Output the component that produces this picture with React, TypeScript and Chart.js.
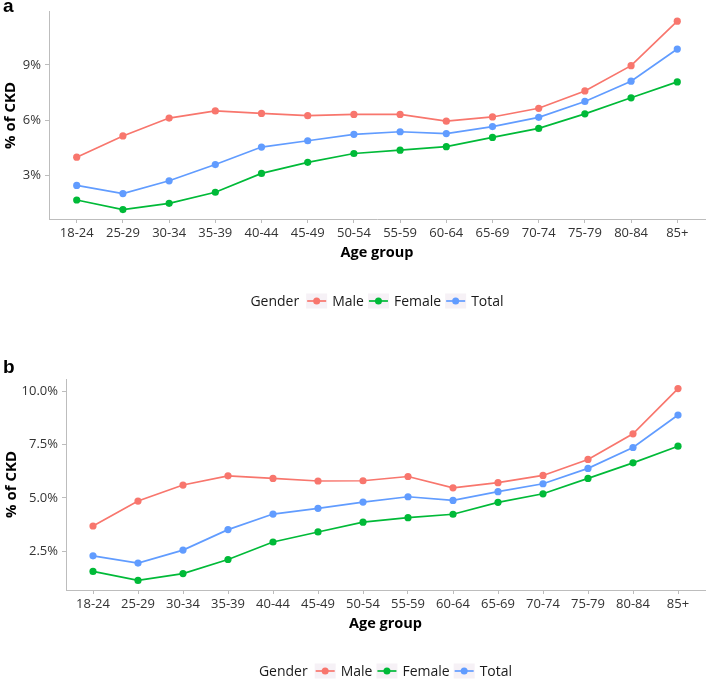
import React, { useEffect, useRef } from "react";
import { Chart, registerables } from "chart.js";

Chart.register(...registerables);

const ageGroups = ["18-24", "25-29", "30-34", "35-39", "40-44", "45-49", "50-54", "55-59", "60-64", "65-69", "70-74", "75-79", "80-84", "85+"];

const seriesNames = ["Male", "Female", "Total"];
const seriesColors = ["#F8766D", "#00BA38", "#619CFF"];

const maleA = [4.0, 5.15, 6.12, 6.51, 6.37, 6.25, 6.32, 6.32, 5.95, 6.18, 6.65, 7.59, 8.96, 11.37];
const femaleA = [1.68, 1.16, 1.5, 2.1, 3.12, 3.72, 4.2, 4.38, 4.57, 5.07, 5.56, 6.35, 7.22, 8.08];
const totalA = [2.47, 2.03, 2.72, 3.6, 4.55, 4.89, 5.24, 5.38, 5.28, 5.66, 6.16, 7.02, 8.12, 9.86];

const maleB = [3.68, 4.85, 5.6, 6.03, 5.91, 5.79, 5.8, 6.0, 5.47, 5.71, 6.05, 6.8, 8.0, 10.12];
const femaleB = [1.55, 1.13, 1.45, 2.11, 2.93, 3.4, 3.86, 4.07, 4.23, 4.79, 5.19, 5.91, 6.64, 7.42];
const totalB = [2.28, 1.94, 2.55, 3.51, 4.24, 4.51, 4.8, 5.05, 4.88, 5.29, 5.66, 6.38, 7.36, 8.88];

const yTicksA = [3, 6, 9];
const yTicksB = [2.5, 5, 7.5, 10];
const yRangeA = [0.65, 11.88];
const yRangeB = [0.68, 10.57];

const FONT = "'Open Sans', 'Noto Sans', sans-serif";

type PanelProps = {
  label: string;
  series: number[][];
  yTicks: number[];
  yRange: number[];
  decimals: number;
  height: number;
  layout: {
    top: number;
    left: number;
    bottom: number;
    labelY: number;
    xTitleY: number;
    legendY: number;
    yTitleX: number;
  };
};

function Panel(props: PanelProps) {
  const ref = useRef<HTMLCanvasElement | null>(null);
  useEffect(() => {
    const canvas = ref.current;
    if (!canvas) return;
    const L = props.layout;
    const decor = {
      id: "decor",
      afterDraw(chart: any) {
        const ctx = chart.ctx;
        const ca = chart.chartArea;
        ctx.save();
        // panel label
        ctx.fillStyle = "#000";
        ctx.textAlign = "left";
        ctx.textBaseline = "alphabetic";
        ctx.font = "bold 19px 'Liberation Sans', Arial, sans-serif";
        ctx.fillText(props.label, 3, L.labelY);
        // x title
        ctx.font = "bold 14.5px " + FONT;
        ctx.textAlign = "center";
        const cx = (ca.left + ca.right) / 2;
        ctx.fillText("Age group", cx, L.xTitleY);
        // y title
        ctx.save();
        ctx.translate(L.yTitleX, (ca.top + ca.bottom) / 2);
        ctx.rotate(-Math.PI / 2);
        ctx.font = "bold 15px " + FONT;
        ctx.fillText("% of CKD", 0, 0);
        ctx.restore();
        // legend
        ctx.font = "14px " + FONT;
        ctx.textBaseline = "middle";
        ctx.textAlign = "left";
        const keyW = 21;
        const keyH = 15;
        const title = "Gender";
        const titleW = ctx.measureText(title).width;
        const names = chart.data.datasets.map((d: any) => d.label);
        const widths = names.map((n: string) => ctx.measureText(n).width);
        let total = titleW + 7;
        widths.forEach((w: number, i: number) => {
          total += keyW + 5 + w + (i < widths.length - 1 ? 4 : 0);
        });
        let x = cx - total / 2;
        const y = L.legendY;
        ctx.fillStyle = "#1a1a1a";
        ctx.fillText(title, x, y + 1);
        x += titleW + 7;
        chart.data.datasets.forEach((d: any, i: number) => {
          ctx.fillStyle = "#f6f1f6";
          ctx.fillRect(x, y - keyH / 2, keyW, keyH);
          ctx.strokeStyle = d.borderColor;
          ctx.lineWidth = 1.7;
          ctx.beginPath();
          ctx.moveTo(x + 1, y);
          ctx.lineTo(x + keyW - 1, y);
          ctx.stroke();
          ctx.fillStyle = d.borderColor;
          ctx.beginPath();
          ctx.arc(x + keyW / 2, y, 3.5, 0, Math.PI * 2);
          ctx.fill();
          x += keyW + 5;
          ctx.fillStyle = "#1a1a1a";
          ctx.fillText(names[i], x, y + 1);
          x += widths[i] + 4;
        });
        ctx.restore();
      },
    };

    const chart = new Chart(canvas, {
      type: "line",
      data: {
        datasets: props.series.map((vals, si) => ({
          label: seriesNames[si],
          data: vals.map((v, i) => ({ x: i, y: v })),
          borderColor: seriesColors[si],
          backgroundColor: seriesColors[si],
          pointBackgroundColor: seriesColors[si],
          pointBorderWidth: 0,
          pointRadius: 3.6,
          borderWidth: 1.7,
          tension: 0,
          fill: false,
        })),
      },
      options: {
        animation: false,
        responsive: false,
        maintainAspectRatio: false,
        layout: { padding: { top: L.top, left: 0, right: 2, bottom: 0 } },
        plugins: { legend: { display: false }, tooltip: { enabled: false } },
        scales: {
          x: {
            type: "linear",
            min: -0.6,
            max: ageGroups.length - 1 + 0.6,
            afterBuildTicks: (s: any) => {
              s.ticks = ageGroups.map((_, i) => ({ value: i }));
            },
            afterFit: (s: any) => {
              s.height = props.height - L.bottom;
            },
            ticks: {
              autoSkip: false,
              maxRotation: 0,
              padding: 2,
              color: "#333333",
              font: { family: FONT, size: 13 },
              callback: (v: any) => ageGroups[v as number],
            },
            grid: { display: true, drawOnChartArea: false, tickLength: 4, color: "#bdbdbd" },
            border: { display: true, color: "#bdbdbd", width: 1 },
          },
          y: {
            type: "linear",
            min: props.yRange[0],
            max: props.yRange[1],
            afterBuildTicks: (s: any) => {
              s.ticks = props.yTicks.map((v) => ({ value: v }));
            },
            afterFit: (s: any) => {
              s.width = L.left;
            },
            ticks: {
              padding: 4,
              color: "#333333",
              font: { family: FONT, size: 13 },
              callback: (v: any) => Number(v).toFixed(props.decimals) + "%",
            },
            grid: { display: true, drawOnChartArea: false, tickLength: 4, color: "#bdbdbd" },
            border: { display: true, color: "#bdbdbd", width: 1 },
          },
        },
      },
      plugins: [decor],
    } as any);
    return () => chart.destroy();
  }, []);
  return (
    <canvas
      ref={ref}
      width={709}
      height={props.height}
      style={{ display: "block", width: 709, height: props.height }}
    />
  );
}

export default function App() {
  return (
    <div style={{ position: "absolute", top: 0, left: 0, width: 709, height: 682, background: "#fff" }}>
      <Panel
        label="a"
        series={[maleA, femaleA, totalA]}
        yTicks={yTicksA}
        yRange={yRangeA}
        decimals={0}
        height={340}
        layout={{ top: 8, left: 49, bottom: 219, labelY: 12, xTitleY: 257, legendY: 301, yTitleX: 15 }}
      />
      <Panel
        label="b"
        series={[maleB, femaleB, totalB]}
        yTicks={yTicksB}
        yRange={yRangeB}
        decimals={1}
        height={342}
        layout={{ top: 39, left: 66, bottom: 250, labelY: 33, xTitleY: 288, legendY: 331, yTitleX: 16 }}
      />
    </div>
  );
}
